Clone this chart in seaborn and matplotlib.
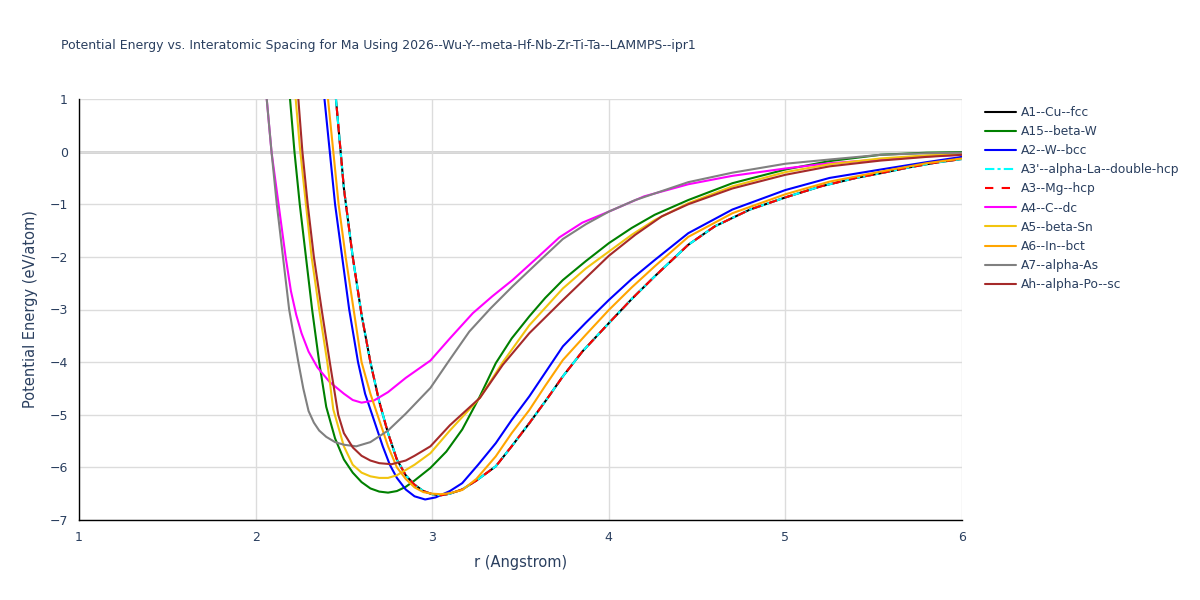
import numpy as np
import pandas as pd
import seaborn as sns
from matplotlib import pyplot as plt
from matplotlib.ticker import MultipleLocator

# curves (r in Angstrom, E in eV/atom)
r_a1 = [2.42, 2.455, 2.50, 2.55, 2.60, 2.65, 2.70, 2.75, 2.80, 2.85, 2.90, 2.95, 3.00, 3.05, 3.10, 3.17,
        3.25, 3.36, 3.45, 3.55, 3.65, 3.74, 3.85, 4.00, 4.13, 4.26, 4.45, 4.60, 4.80, 5.00, 5.20, 5.40,
        5.54, 5.70, 5.85, 6.00]
e_a1 = [2.1, 1.0, -0.7, -2.0, -3.1, -4.0, -4.75, -5.35, -5.85, -6.15, -6.33, -6.45, -6.51, -6.53, -6.50, -6.42,
        -6.25, -5.98, -5.6, -5.16, -4.7, -4.27, -3.8, -3.26, -2.8, -2.37, -1.77, -1.42, -1.1, -0.87, -0.66, -0.5,
        -0.41, -0.3, -0.21, -0.14]

r_a15 = [2.17, 2.195, 2.22, 2.25, 2.285, 2.32, 2.36, 2.40, 2.45, 2.50, 2.55, 2.60, 2.65, 2.70, 2.75, 2.80,
         2.85, 2.90, 2.99, 3.08, 3.17, 3.27, 3.36, 3.45, 3.55, 3.64, 3.74, 3.87, 4.00, 4.13, 4.26, 4.45,
         4.70, 5.00, 5.25, 5.54, 5.80, 6.00]
e_a15 = [2.0, 1.0, 0.0, -1.0, -2.0, -3.0, -4.0, -4.85, -5.45, -5.85, -6.1, -6.28, -6.4, -6.46, -6.48, -6.45,
         -6.37, -6.25, -6.01, -5.7, -5.28, -4.65, -4.02, -3.55, -3.13, -2.78, -2.44, -2.08, -1.74, -1.45, -1.20, -0.92,
         -0.6, -0.34, -0.18, -0.06, -0.02, -0.01]

r_a2 = [2.36, 2.39, 2.42, 2.45, 2.49, 2.53, 2.58, 2.62, 2.67, 2.72, 2.76, 2.80, 2.85, 2.90, 2.96, 3.02,
        3.10, 3.17, 3.26, 3.36, 3.45, 3.55, 3.64, 3.74, 3.87, 4.00, 4.13, 4.26, 4.45, 4.70, 5.00, 5.25,
        5.54, 5.80, 6.00]
e_a2 = [2.0, 1.0, 0.0, -1.0, -2.0, -3.0, -4.0, -4.6, -5.1, -5.6, -5.95, -6.2, -6.42, -6.55, -6.61, -6.57,
        -6.45, -6.30, -5.95, -5.54, -5.1, -4.65, -4.2, -3.70, -3.25, -2.82, -2.42, -2.06, -1.55, -1.1, -0.73, -0.5,
        -0.34, -0.2, -0.1]

r_a4 = [2.04, 2.063, 2.09, 2.13, 2.17, 2.20, 2.23, 2.26, 2.30, 2.35, 2.42, 2.50, 2.55, 2.60, 2.67, 2.75,
        2.85, 2.99, 3.10, 3.23, 3.34, 3.455, 3.60, 3.72, 3.85, 4.00, 4.20, 4.45, 4.70, 5.00, 5.25, 5.54,
        5.80, 6.00]
e_a4 = [2.0, 1.0, 0.0, -1.0, -2.0, -2.65, -3.1, -3.45, -3.8, -4.1, -4.38, -4.6, -4.72, -4.77, -4.73, -4.57,
        -4.3, -3.97, -3.55, -3.07, -2.75, -2.44, -2.0, -1.63, -1.35, -1.14, -0.85, -0.62, -0.46, -0.32, -0.22, -0.15,
        -0.09, -0.06]

r_a5 = [2.20, 2.227, 2.25, 2.285, 2.317, 2.36, 2.406, 2.44, 2.50, 2.55, 2.60, 2.65, 2.70, 2.75, 2.80, 2.90,
        2.99, 3.10, 3.27, 3.40, 3.55, 3.74, 3.87, 4.00, 4.13, 4.26, 4.45, 4.70, 5.00, 5.25, 5.54, 5.80, 6.00]
e_a5 = [2.0, 1.0, 0.1, -1.0, -2.0, -3.0, -4.0, -4.9, -5.6, -5.95, -6.1, -6.17, -6.2, -6.2, -6.15, -5.95,
        -5.73, -5.3, -4.68, -4.0, -3.3, -2.6, -2.22, -1.90, -1.58, -1.3, -0.98, -0.66, -0.39, -0.24, -0.13, -0.07, -0.05]

r_a6 = [2.38, 2.41, 2.44, 2.47, 2.51, 2.555, 2.60, 2.65, 2.70, 2.75, 2.80, 2.85, 2.90, 2.95, 3.00, 3.05,
        3.10, 3.17, 3.25, 3.36, 3.45, 3.55, 3.64, 3.74, 3.87, 4.00, 4.13, 4.26, 4.45, 4.70, 5.00, 5.25,
        5.54, 5.80, 6.00]
e_a6 = [2.0, 1.0, 0.0, -1.0, -2.0, -3.0, -4.0, -4.6, -5.1, -5.6, -6.0, -6.22, -6.38, -6.47, -6.50, -6.51,
        -6.49, -6.43, -6.22, -5.79, -5.35, -4.91, -4.45, -3.96, -3.48, -3.01, -2.58, -2.18, -1.62, -1.17, -0.81, -0.57,
        -0.38, -0.22, -0.13]

r_a7 = [2.04, 2.063, 2.09, 2.12, 2.155, 2.19, 2.242, 2.27, 2.30, 2.33, 2.36, 2.40, 2.45, 2.50, 2.57, 2.65,
        2.75, 2.85, 2.99, 3.10, 3.21, 3.33, 3.455, 3.60, 3.74, 3.87, 4.00, 4.15, 4.30, 4.45, 4.70, 5.00,
        5.25, 5.54, 5.80, 6.00]
e_a7 = [2.0, 1.0, 0.0, -1.0, -2.0, -3.0, -4.0, -4.5, -4.93, -5.15, -5.3, -5.42, -5.52, -5.57, -5.6, -5.52,
        -5.3, -4.98, -4.49, -3.95, -3.42, -2.98, -2.56, -2.1, -1.66, -1.38, -1.14, -0.92, -0.75, -0.58, -0.4, -0.23,
        -0.15, -0.06, -0.03, -0.02]

r_ah = [2.215, 2.242, 2.265, 2.295, 2.33, 2.374, 2.42, 2.468, 2.50, 2.55, 2.60, 2.65, 2.70, 2.77, 2.85, 2.90,
        2.99, 3.10, 3.27, 3.40, 3.55, 3.74, 3.87, 4.00, 4.15, 4.30, 4.45, 4.70, 5.00, 5.25, 5.54, 5.80, 6.00]
e_ah = [2.0, 1.0, 0.0, -1.0, -2.0, -3.0, -4.0, -5.0, -5.35, -5.62, -5.78, -5.87, -5.92, -5.94, -5.87, -5.78,
        -5.60, -5.2, -4.68, -4.05, -3.45, -2.82, -2.4, -1.98, -1.58, -1.23, -1.0, -0.7, -0.44, -0.28, -0.17, -0.1, -0.06]

# A3 and A3' lie on top of A1
curves = [
    ("A1--Cu--fcc", r_a1, e_a1, "black", "-"),
    ("A15--beta-W", r_a15, e_a15, "green", "-"),
    ("A2--W--bcc", r_a2, e_a2, "blue", "-"),
    ("A3'--alpha-La--double-hcp", r_a1, e_a1, "cyan", (0, (4.5, 1.5, 1.5, 1.5))),
    ("A3--Mg--hcp", r_a1, e_a1, "red", (0, (4, 4))),
    ("A4--C--dc", r_a4, e_a4, "magenta", "-"),
    ("A5--beta-Sn", r_a5, e_a5, "#f2c40f", "-"),
    ("A6--In--bct", r_a6, e_a6, "orange", "-"),
    ("A7--alpha-As", r_a7, e_a7, "grey", "-"),
    ("Ah--alpha-Po--sc", r_ah, e_ah, "brown", "-"),
]

txt = "#2a3f5f"
sns.set_style("white")
plt.rcParams["font.family"] = ["DejaVu Sans"]

fig = plt.figure(figsize=(12, 6), dpi=100)
ax = fig.add_axes([79 / 1200, 80 / 600, 883 / 1200, 421 / 600])

for name, r, e, col, ls in curves:
    sns.lineplot(x=r, y=e, ax=ax, color=col, linewidth=1.5, linestyle=ls, label=name)

ax.set_xlim(1, 6)
ax.set_ylim(-7, 1)
ax.xaxis.set_major_locator(MultipleLocator(1))
ax.xaxis.set_minor_locator(MultipleLocator(0.2))
ax.yaxis.set_major_locator(MultipleLocator(1))
ax.yaxis.set_minor_locator(MultipleLocator(0.2))
ax.grid(True, which="major", color="#dcdcdc", linewidth=1)
ax.axhline(0, color="#d0d0d0", linewidth=2, zorder=0.5)
ax.set_axisbelow(True)

for s in ["top", "right"]:
    ax.spines[s].set_visible(False)
for s in ["left", "bottom"]:
    ax.spines[s].set_color("black")
    ax.spines[s].set_linewidth(1)

ax.tick_params(which="major", direction="out", length=5, width=1.5, color="#c8c8c8",
               labelsize=9, labelcolor=txt, pad=3)
ax.tick_params(which="minor", direction="out", length=4, width=1, color="black")
ax.set_yticklabels([f"{int(v)}".replace("-", "\u2212") for v in ax.get_yticks()])

ax.set_xlabel("r (Angstrom)", fontsize=10.5, color=txt, labelpad=8)
ax.set_ylabel("Potential Energy (eV/atom)", fontsize=10.5, color=txt, labelpad=8)

fig.text(61 / 1200, 1 - 45 / 600, "Potential Energy vs. Interatomic Spacing for Ma Using "
         "2026--Wu-Y--meta-Hf-Nb-Zr-Ti-Ta--LAMMPS--ipr1",
         fontsize=9, color=txt, va="center", ha="left")

ax.legend(loc="upper left", bbox_to_anchor=(985 / 1200, 1 - 106 / 600), bbox_transform=fig.transFigure,
          frameon=False, fontsize=8.8, labelcolor=txt, handlelength=2.5, labelspacing=0.5,
          borderaxespad=0, borderpad=0, handletextpad=0.45)

plt.savefig("out.png", dpi=100)
plt.close()
